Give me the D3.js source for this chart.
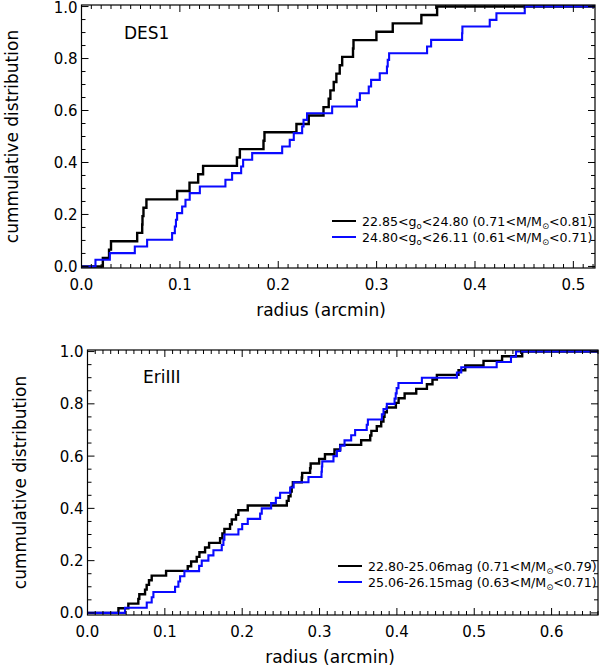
<!DOCTYPE html>
<html>
<head>
<meta charset="utf-8">
<script src="https://cdn.jsdelivr.net/npm/d3@7"></script>
<style>
  body { margin: 0; background: #fff; }
  text { font-family: "DejaVu Sans", "Liberation Sans", sans-serif; fill: #000; }
</style>
</head>
<body>
<svg id="fig" width="605" height="672"></svg>
<script>
// Cumulative radial distributions of stars in two magnitude bins.
// Each array lists the radii (arcmin) of the stars in one bin, sorted.

const yTickValues = [0.0, 0.2, 0.4, 0.6, 0.8, 1.0];
const des1XTicks = [0.0, 0.1, 0.2, 0.3, 0.4, 0.5];
const eri3XTicks = [0.0, 0.1, 0.2, 0.3, 0.4, 0.5, 0.6];

// DES1
const des1Bright = [0.0217, 0.0280, 0.0300, 0.0566, 0.0617, 0.0620, 0.0630, 0.0660,
  0.0972, 0.1098, 0.1186, 0.1236, 0.1580, 0.1610, 0.1850, 0.1860, 0.2185, 0.2310,
  0.2460, 0.2513, 0.2530, 0.2564, 0.2591, 0.2625, 0.2650, 0.2760, 0.2765, 0.2998,
  0.3164, 0.3455, 0.3615];
const des1Faint = [0.0142, 0.0288, 0.0542, 0.0667, 0.0921, 0.0949, 0.0960, 0.0972,
  0.1023, 0.1057, 0.1100, 0.1203, 0.1463, 0.1531, 0.1623, 0.1643, 0.1735, 0.2040,
  0.2117, 0.2158, 0.2243, 0.2257, 0.2293, 0.2548, 0.2800, 0.2830, 0.2920, 0.2944,
  0.3032, 0.3105, 0.3113, 0.3127, 0.3513, 0.3554, 0.3869, 0.3872, 0.4150, 0.4218,
  0.4506];

// EriIII
const eri3Bright = [0.0400, 0.0528, 0.0657, 0.0670, 0.0744, 0.0765, 0.0795, 0.0830,
  0.1016, 0.1296, 0.1340, 0.1412, 0.1447, 0.1520, 0.1572, 0.1714, 0.1744, 0.1770,
  0.1843, 0.1865, 0.1920, 0.1950, 0.2072, 0.2577, 0.2600, 0.2625, 0.2640, 0.2655,
  0.2770, 0.2775, 0.2878, 0.2885, 0.2995, 0.3070, 0.3193, 0.3267, 0.3538, 0.3655,
  0.3670, 0.3740, 0.3797, 0.3826, 0.3840, 0.3870, 0.3987, 0.4022, 0.4100, 0.4250,
  0.4388, 0.4460, 0.4517, 0.4797, 0.4884, 0.5120, 0.5360, 0.5620];
const eri3Faint = [0.0485, 0.0766, 0.0830, 0.0852, 0.1132, 0.1175, 0.1197, 0.1253,
  0.1443, 0.1477, 0.1563, 0.1628, 0.1736, 0.1757, 0.1770, 0.1951, 0.2000, 0.2072,
  0.2232, 0.2253, 0.2374, 0.2435, 0.2490, 0.2620, 0.2665, 0.2857, 0.3025, 0.3030,
  0.3035, 0.3180, 0.3224, 0.3267, 0.3323, 0.3409, 0.3460, 0.3610, 0.3625, 0.3806,
  0.3827, 0.3870, 0.3970, 0.3985, 0.3997, 0.4020, 0.4323, 0.4776, 0.4832, 0.5290,
  0.5475, 0.5540];

// Legend entries: plain text pieces and subscripted pieces
const des1BrightLabel = [["22.85<g", false], ["o", true], ["<24.80 (0.71<M/M", false], ["\u2299", true], ["<0.81)", false]];
const des1FaintLabel  = [["24.80<g", false], ["o", true], ["<26.11 (0.61<M/M", false], ["\u2299", true], ["<0.71)", false]];
const eri3BrightLabel = [["22.80-25.06mag (0.71<M/M", false], ["\u2299", true], ["<0.79)", false]];
const eri3FaintLabel  = [["25.06-26.15mag (0.63<M/M", false], ["\u2299", true], ["<0.71)", false]];

const BLACK = "#000000";
const BLUE = "#0a0aff";

const svg = d3.select("#fig");

function drawPanel(cfg) {
  const g = svg.append("g");
  const x = d3.scaleLinear().domain(cfg.xDomain).range([cfg.left, cfg.right]);
  const y = d3.scaleLinear().domain(cfg.yDomain).range([cfg.bottom, cfg.top]);

  // cumulative step curves
  const line = d3.line().x(d => x(d[0])).y(d => y(d[1])).curve(d3.curveStepAfter);
  cfg.series.forEach(s => {
    const n = s.radii.length;
    const pts = [[cfg.xDomain[0], 0]]
      .concat(s.radii.map((r, i) => [r, (i + 1) / n]))
      .concat([[cfg.xDomain[1], 1]]);
    g.append("path")
      .attr("d", line(pts))
      .attr("fill", "none")
      .attr("stroke", s.color)
      .attr("stroke-width", s.width);
  });

  // frame
  g.append("rect")
    .attr("x", cfg.left).attr("y", cfg.top)
    .attr("width", cfg.right - cfg.left).attr("height", cfg.bottom - cfg.top)
    .attr("fill", "none").attr("stroke", "#000").attr("stroke-width", 1.2);

  const majorLen = 7, minorLen = 4;
  const xMinor = d3.range(Math.round(cfg.xDomain[0] * 100), Math.floor(cfg.xDomain[1] * 100 + 1e-6) + 1).map(v => v / 100);
  const yMinor = d3.range(0, 21).map(v => v / 20);
  const isMajor = (v, tv) => tv.some(t => Math.abs(t - v) < 1e-6);

  const ticks = g.append("g").attr("stroke", "#000").attr("stroke-width", 1);
  xMinor.forEach(v => {
    const len = isMajor(v, cfg.xTicks) ? majorLen : minorLen;
    const px = x(v);
    ticks.append("line").attr("x1", px).attr("x2", px).attr("y1", cfg.bottom).attr("y2", cfg.bottom - len);
    ticks.append("line").attr("x1", px).attr("x2", px).attr("y1", cfg.top).attr("y2", cfg.top + len);
  });
  yMinor.forEach(v => {
    const len = isMajor(v, yTickValues) ? majorLen : minorLen;
    const py = y(v);
    ticks.append("line").attr("x1", cfg.left).attr("x2", cfg.left + len).attr("y1", py).attr("y2", py);
    ticks.append("line").attr("x1", cfg.right).attr("x2", cfg.right - len).attr("y1", py).attr("y2", py);
  });

  // tick labels
  cfg.xTicks.forEach(v => {
    g.append("text").attr("x", x(v)).attr("y", cfg.bottom + 22)
      .attr("text-anchor", "middle").attr("font-size", 15).text(v.toFixed(1));
  });
  yTickValues.forEach(v => {
    g.append("text").attr("x", cfg.left - 4).attr("y", Math.max(y(v) + 5.5, 13))
      .attr("text-anchor", "end").attr("font-size", 15).text(v.toFixed(1));
  });

  // axis titles
  g.append("text").attr("x", cfg.xTitleX).attr("y", cfg.bottom + 48)
    .attr("text-anchor", "middle").attr("font-size", 17).text("radius (arcmin)");
  g.append("text")
    .attr("transform", `translate(${cfg.yTitleX},${(cfg.top + cfg.bottom) / 2}) rotate(-90)`)
    .attr("text-anchor", "middle").attr("font-size", 17).text("cummulative distribution");

  // object name
  g.append("text").attr("x", cfg.nameX).attr("y", cfg.nameY)
    .attr("font-size", 17).text(cfg.name);

  // legend
  cfg.series.forEach((s, i) => {
    const ly = cfg.legendY + i * 16;
    g.append("line").attr("x1", cfg.legendX).attr("x2", cfg.legendX + 24)
      .attr("y1", ly).attr("y2", ly).attr("stroke", s.color).attr("stroke-width", 2);
    const t = g.append("text").attr("x", cfg.legendX + 30).attr("y", ly + 4.5).attr("font-size", 12.6);
    let shifted = false;
    s.label.forEach(([txt, sub]) => {
      const ts = t.append("tspan").text(txt);
      if (sub && !shifted) { ts.attr("dy", 3).attr("font-size", 8.5); shifted = true; }
      else if (!sub && shifted) { ts.attr("dy", -3); shifted = false; }
    });
  });
}

drawPanel({
  left: 81.5, right: 595, top: 5, bottom: 268,
  xDomain: [0, 0.522], yDomain: [-0.006, 1.006],
  xTicks: des1XTicks,
  xTitleX: 321, yTitleX: 18,
  name: "DES1", nameX: 124, nameY: 39,
  legendX: 332, legendY: 221,
  series: [
    { radii: des1Bright, color: BLACK, width: 2.4, label: des1BrightLabel },
    { radii: des1Faint, color: BLUE, width: 2.1, label: des1FaintLabel }
  ]
});

drawPanel({
  left: 87.5, right: 598, top: 350, bottom: 615,
  xDomain: [0, 0.66], yDomain: [-0.008, 1.006],
  xTicks: eri3XTicks,
  xTitleX: 330, yTitleX: 26,
  name: "EriIII", nameX: 143, nameY: 383,
  legendX: 338, legendY: 566,
  series: [
    { radii: eri3Bright, color: BLACK, width: 2.4, label: eri3BrightLabel },
    { radii: eri3Faint, color: BLUE, width: 2.1, label: eri3FaintLabel }
  ]
});
</script>
</body>
</html>
